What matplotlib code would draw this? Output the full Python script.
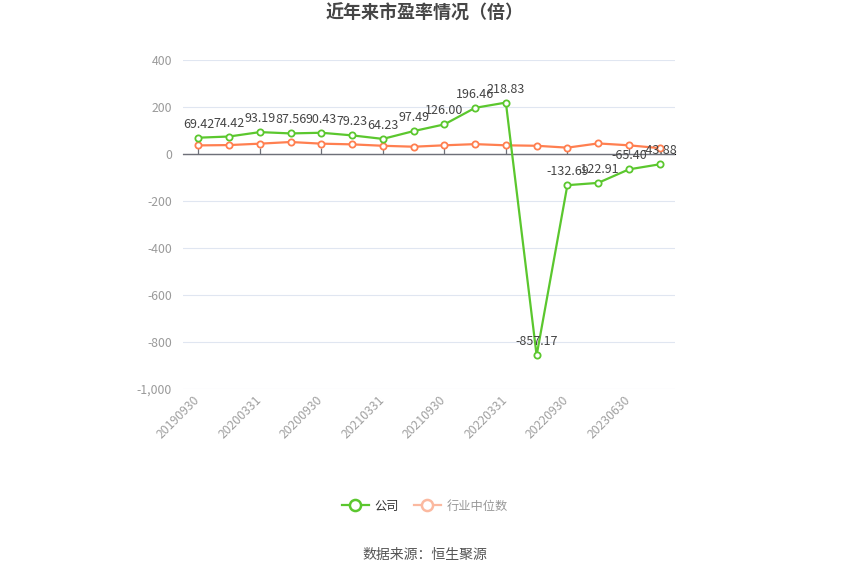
import matplotlib.pyplot as plt
from matplotlib.lines import Line2D
from matplotlib.ticker import FuncFormatter
from matplotlib.transforms import ScaledTranslation

plt.rcParams['font.family'] = ['Noto Sans CJK SC', 'DejaVu Sans']

# data
dates = ['20190930', '20191231', '20200331', '20200630', '20200930', '20201231',
         '20210331', '20210630', '20210930', '20211231', '20220331', '20220630',
         '20220930', '20221231', '20230630', '20230930']
company_pe = [69.42, 74.42, 93.19, 87.56, 90.43, 79.23, 64.23, 97.49, 126.00,
              196.46, 218.83, -857.17, -132.69, -122.91, -65.40, -43.88]
industry_pe = [36.6, 38.0, 44.0, 51.0, 44.0, 41.0, 35.0, 31.0, 37.0, 42.0,
               37.0, 35.0, 27.0, 45.0, 37.0, 25.0]
y_ticks = [-1000, -800, -600, -400, -200, 0, 200, 400]

green = '#5bc72e'
orange = '#ff7f50'

fig = plt.figure(figsize=(8.5, 5.74), dpi=100)
ax = fig.add_axes([183 / 850, 1 - 389 / 574, 492 / 850, 329 / 574])

x = list(range(len(dates)))
ax.plot(x, industry_pe, color=orange, lw=1.6, marker='o', ms=4.5,
        mfc='white', mec=orange, mew=1.3, zorder=3)
ax.plot(x, company_pe, color=green, lw=1.6, marker='o', ms=4.5,
        mfc='white', mec=green, mew=1.3, zorder=4)

for xi, v in zip(x, company_pe):
    ax.annotate(f'{v:.2f}', (xi, v), xytext=(0, 5), textcoords='offset points',
                ha='center', va='bottom', fontsize=9, color='#444444', zorder=5)

ax.set_xlim(-0.5, len(dates) - 0.5)
ax.set_ylim(-1000, 400)
ax.set_yticks(y_ticks)
ax.yaxis.set_major_formatter(FuncFormatter(lambda v, p: f'{int(v):,}'))
ax.grid(axis='y', color='#e0e6f1', lw=0.8)
ax.set_axisbelow(True)
for s in ax.spines.values():
    s.set_visible(False)
ax.tick_params(axis='y', length=0, colors='#9a9a9a', labelsize=8.8, pad=8)

# category labels at bottom, every other date
ax.set_xticks(x[::2])
ax.set_xticklabels(dates[::2], rotation=45, ha='right', va='top',
                   rotation_mode='anchor')
ax.tick_params(axis='x', length=0, colors='#a0a0a0', labelsize=8.8, pad=3)
shift = ScaledTranslation(-5 / 100, 0, fig.dpi_scale_trans)
for lbl in ax.get_xticklabels():
    lbl.set_transform(lbl.get_transform() + shift)

# zero axis line with ticks
ax.axhline(0, color='#6e7079', lw=0.9, zorder=2)
zero_pos = (0 - y_ticks[0]) / (y_ticks[-1] - y_ticks[0])
sec = ax.secondary_xaxis(zero_pos)
sec.set_xticks(x[::2])
sec.set_xticklabels([])
sec.spines['bottom'].set_visible(False)
sec.tick_params(axis='x', length=4, width=0.9, color='#6e7079', direction='out')

fig.text(0.5, 1 - 13 / 574, '近年来市盈率情况（倍）', ha='center', va='center',
         fontsize=13, fontweight='bold', color='#464646')

handles = [
    Line2D([], [], color=green, lw=1.6, marker='o', ms=8, mfc='white', mec=green, mew=1.8),
    Line2D([], [], color='#fbb9a0', lw=1.6, marker='o', ms=8, mfc='white', mec='#fbb9a0', mew=1.8),
]
leg = fig.legend(handles, ['公司', '行业中位数'], loc='center',
                 bbox_to_anchor=(0.5, 1 - 506 / 574), ncol=2, frameon=False,
                 fontsize=8.8, handlelength=2.2, handletextpad=0.5, columnspacing=1.2)
leg.get_texts()[0].set_color('#333333')
leg.get_texts()[1].set_color('#999999')

fig.text(0.5, 1 - 555 / 574, '数据来源：恒生聚源', ha='center', va='center',
         fontsize=10, color='#555555')

fig.savefig('out.png', dpi=100)
